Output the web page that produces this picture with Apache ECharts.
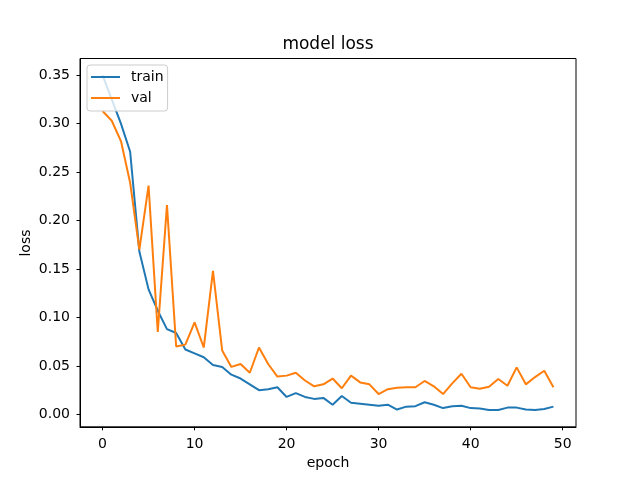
<!DOCTYPE html>
<html>
<head>
<meta charset="utf-8">
<script src="https://cdn.jsdelivr.net/npm/echarts@6/dist/echarts.min.js"></script>
<style>
    html, body { margin: 0; padding: 0; background: #fff; }
    #chart { width: 640px; height: 480px; }
</style>
</head>
<body>
<div id="chart"></div>
<script>
// loss per epoch
var epochs = [];
for (var e = 0; e < 50; e++) epochs.push(e);

var trainLoss = [0.350, 0.325, 0.300, 0.271, 0.168, 0.129, 0.107, 0.088, 0.084, 0.067,
    0.063, 0.059, 0.051, 0.049, 0.041, 0.037, 0.031, 0.025, 0.026, 0.028,
    0.018, 0.022, 0.018, 0.016, 0.017, 0.010, 0.019, 0.012, 0.011, 0.010,
    0.009, 0.010, 0.005, 0.008, 0.0085, 0.0125, 0.010, 0.0065, 0.0085, 0.009,
    0.0065, 0.006, 0.0045, 0.0045, 0.007, 0.007, 0.005, 0.0045, 0.0055, 0.008];

var valLoss = [0.313, 0.303, 0.282, 0.239, 0.170, 0.236, 0.085, 0.216, 0.070, 0.072,
    0.095, 0.069, 0.148, 0.066, 0.049, 0.052, 0.043, 0.069, 0.052, 0.039,
    0.040, 0.043, 0.035, 0.029, 0.031, 0.037, 0.027, 0.040, 0.033, 0.031,
    0.021, 0.026, 0.0275, 0.028, 0.028, 0.0345, 0.029, 0.021, 0.032, 0.042,
    0.028, 0.0265, 0.0285, 0.0365, 0.0295, 0.0485, 0.031, 0.0385, 0.045, 0.028];

var xTicks = [0, 10, 20, 30, 40, 50];
var yTicks = [0, 0.05, 0.10, 0.15, 0.20, 0.25, 0.30, 0.35];

var font = 'DejaVu Sans';

function pairs(ys) {
    return epochs.map(function (x, i) { return [x, ys[i]]; });
}

var chart = echarts.init(document.getElementById('chart'), null, {renderer: 'canvas'});

var axisCommon = {
    axisLine: {show: true, onZero: false, lineStyle: {color: '#000', width: 1}},
    axisTick: {show: true, length: 3.5, lineStyle: {color: '#000', width: 1}},
    splitLine: {show: false}
};

var option = {
    animation: false,
    backgroundColor: '#fff',
    grid: {left: 80, top: 58.5, width: 496, height: 368.3, show: true, borderColor: '#000', borderWidth: 1},
    legend: {
        orient: 'vertical',
        left: 87,
        top: 65,
        icon: 'rect',
        itemWidth: 29,
        itemHeight: 2,
        itemGap: 7,
        padding: [5, 4, 6, 4],
        backgroundColor: 'rgba(255,255,255,0.8)',
        borderColor: '#cccccc',
        borderWidth: 1,
        borderRadius: 3,
        textStyle: {fontFamily: font, fontSize: 14, color: '#000', padding: [0, 0, 0, 6]},
        data: ['train', 'val']
    },
    xAxis: echarts.util.merge({
        type: 'value',
        min: -2.45,
        max: 51.45,
        axisTick: {customValues: xTicks},
        axisLabel: {customValues: xTicks, margin: 11, color: '#000', fontFamily: font, fontSize: 14}
    }, axisCommon),
    yAxis: echarts.util.merge({
        type: 'value',
        min: -0.0128,
        max: 0.3672,
        axisTick: {customValues: yTicks},
        axisLabel: {
            customValues: yTicks, margin: 10, color: '#000', fontFamily: font, fontSize: 14,
            padding: [3, 0, 0, 0],
            formatter: function (v) { return v.toFixed(2); }
        }
    }, axisCommon),
    graphic: [
        {type: 'text', x: 328, y: 44.5, style: {text: 'model loss', fill: '#000', font: '17px "DejaVu Sans"', textAlign: 'center', textVerticalAlign: 'middle'}},
        {type: 'text', x: 328, y: 463, style: {text: 'epoch', fill: '#000', font: '14px "DejaVu Sans"', textAlign: 'center', textVerticalAlign: 'middle'}},
        {type: 'text', x: 26, y: 243, rotation: Math.PI / 2, style: {text: 'loss', fill: '#000', font: '14px "DejaVu Sans"', textAlign: 'center', textVerticalAlign: 'middle'}}
    ],
    series: [
        {name: 'train', type: 'line', data: pairs(trainLoss), symbol: 'none', color: '#1f77b4', lineStyle: {width: 2, color: '#1f77b4'}},
        {name: 'val', type: 'line', data: pairs(valLoss), symbol: 'none', color: '#ff7f0e', lineStyle: {width: 2, color: '#ff7f0e'}}
    ]
};

chart.setOption(option);
</script>
</body>
</html>
